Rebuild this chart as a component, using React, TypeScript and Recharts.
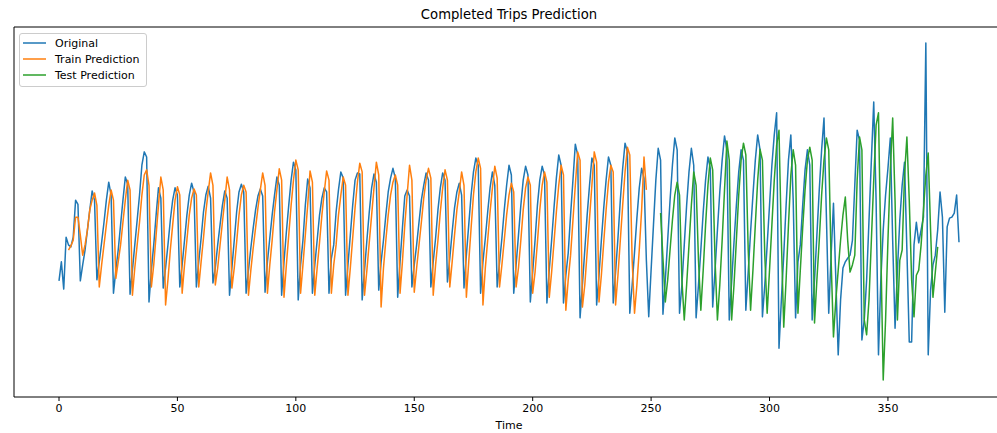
import React from 'react';
import { LineChart, Line, XAxis, YAxis } from 'recharts';

// Original series (index 0..380)
const original: number[] = [
  217, 254, 201, 302, 287, 283, 302, 374, 366, 217,
  248, 277, 316, 355, 392, 374, 219, 254, 292, 331,
  374, 409, 384, 193, 238, 277, 326, 374, 419, 405,
  191, 238, 287, 335, 384, 442, 468, 458, 176, 238,
  287, 345, 398, 378, 203, 242, 287, 335, 374, 398,
  384, 205, 248, 296, 345, 384, 407, 390, 205, 254,
  300, 351, 384, 401, 378, 213, 242, 287, 326, 364,
  392, 378, 189, 242, 296, 351, 390, 405, 390, 193,
  238, 281, 320, 355, 382, 396, 382, 195, 254, 300,
  345, 384, 419, 403, 189, 254, 312, 364, 413, 448,
  433, 180, 248, 296, 364, 415, 398, 193, 248, 296,
  345, 378, 398, 390, 193, 261, 287, 351, 394, 429,
  417, 189, 248, 306, 364, 413, 427, 425, 180, 238,
  296, 351, 398, 425, 409, 199, 254, 296, 345, 390,
  417, 436, 417, 185, 254, 320, 382, 394, 382, 205,
  248, 287, 331, 374, 403, 427, 413, 205, 254, 300,
  355, 398, 427, 413, 215, 261, 312, 359, 390, 407,
  384, 203, 267, 326, 384, 429, 456, 442, 193, 254,
  300, 351, 398, 429, 403, 205, 252, 300, 355, 403,
  442, 423, 193, 248, 306, 364, 413, 440, 423, 176,
  234, 296, 364, 413, 440, 423, 174, 238, 296, 359,
  417, 462, 442, 174, 228, 271, 345, 413, 483, 462,
  145, 209, 277, 345, 403, 456, 442, 170, 228, 296,
  359, 413, 458, 442, 174, 234, 300, 374, 436, 485,
  468, 154, 209, 273, 339, 398, 436, 417, 257, 147,
  238, 326, 413, 475, 452, 152, 219, 296, 374, 442,
  495, 472, 154, 209, 287, 364, 429, 475, 442, 145,
  209, 277, 351, 413, 458, 436, 166, 238, 316, 390,
  452, 499, 472, 141, 215, 292, 364, 429, 472, 452,
  160, 234, 312, 384, 452, 501, 472, 147, 209, 287,
  364, 442, 501, 544, 86, 180, 267, 364, 452, 501,
  374, 145, 254, 287, 364, 433, 472, 442, 141, 219,
  306, 394, 472, 534, 345, 154, 267, 368, 219, 73,
  180, 242, 254, 261, 267, 296, 403, 510, 491, 102,
  141, 219, 335, 452, 565, 374, 73, 219, 316, 384,
  436, 495, 296, 125, 238, 335, 403, 448, 277, 98,
  98, 287, 331, 291, 316, 341, 680, 73, 199, 248,
  267, 316, 390, 341, 156, 322, 339, 341, 349, 384, 292,
];

// Train prediction, starts at index 4
const TRAIN_START = 4;
const trainPrediction: number[] = [
  277, 285, 296, 341, 341, 306,
  267, 287, 316, 355, 374, 388, 364, 205, 248, 287,
  326, 364, 394, 374, 222, 254, 287, 331, 374, 413,
  394, 189, 242, 287, 331, 384, 423, 433, 403, 205,
  248, 306, 364, 419, 394, 170, 219, 277, 326, 374,
  400, 384, 193, 248, 296, 345, 378, 396, 384, 205,
  254, 300, 351, 390, 427, 403, 209, 242, 287, 331,
  374, 419, 394, 203, 242, 292, 345, 384, 403, 390,
  189, 238, 281, 320, 359, 394, 427, 403, 193, 248,
  296, 351, 394, 435, 413, 185, 248, 306, 364, 413,
  452, 433, 193, 248, 306, 364, 431, 409, 189, 242,
  292, 345, 390, 431, 413, 193, 248, 287, 345, 384,
  419, 403, 189, 242, 300, 359, 409, 446, 429, 189,
  238, 292, 345, 398, 448, 423, 166, 242, 296, 345,
  384, 409, 423, 403, 193, 254, 326, 384, 442, 413,
  195, 242, 287, 331, 378, 413, 436, 417, 189, 248,
  296, 351, 398, 433, 413, 205, 254, 306, 355, 390,
  429, 403, 185, 254, 320, 384, 429, 456, 436, 170,
  242, 296, 351, 398, 440, 417, 205, 248, 296, 345,
  384, 407, 390, 205, 242, 296, 355, 398, 419, 403,
  193, 234, 292, 355, 403, 429, 409, 185, 234, 292,
  351, 403, 442, 423, 160, 219, 267, 335, 403, 468,
  452, 166, 209, 273, 339, 403, 468, 448, 176, 228,
  292, 355, 409, 442, 429, 170, 228, 296, 364, 429,
  477, 462, 257, 154, 209, 277, 355, 458, 394,
];

// Test prediction, starts at index 254
const TEST_START = 254;
const testPrediction: number[] = [
  349, 261, 176, 219, 277, 335,
  384, 409, 384, 219, 141, 209, 287, 364, 429, 403,
  257, 160, 238, 326, 403, 456, 433, 257, 141, 209,
  296, 394, 489, 452, 141, 209, 296, 384, 452, 485,
  462, 277, 160, 238, 326, 413, 473, 452, 267, 154,
  238, 326, 413, 481, 510, 296, 127, 219, 326, 423,
  472, 442, 154, 238, 320, 394, 452, 477, 452, 135,
  219, 296, 384, 452, 495, 472, 257, 108, 180, 238,
  296, 345, 380, 296, 234, 248, 267, 413, 497, 472,
  141, 112, 180, 296, 413, 520, 544, 277, 24, 141,
  296, 433, 534, 374, 141, 257, 277, 423, 497, 374,
  219, 147, 228, 238, 287, 355, 423, 466, 316, 185,
  234, 283,
];

const xTicks = [0, 50, 100, 150, 200, 250, 300, 350];
const yTicks = [0, 100, 200, 300, 400, 500, 600, 700];

const data = original.map((v, i) => {
  const ti = i - TRAIN_START;
  const si = i - TEST_START;
  return {
    t: i,
    original: v,
    train: ti >= 0 && ti < trainPrediction.length ? trainPrediction[ti] : null,
    test: si >= 0 && si < testPrediction.length ? testPrediction[si] : null,
  };
});

const FONT = '"DejaVu Sans", sans-serif';
const BLUE = '#1f77b4';
const ORANGE = '#ff7f0e';
const GREEN = '#2ca02c';

const legendItems = [
  { label: 'Original', color: BLUE },
  { label: 'Train Prediction', color: ORANGE },
  { label: 'Test Prediction', color: GREEN },
];

export default function App() {
  return (
    <div
      style={{
        position: 'absolute',
        left: 0,
        top: 0,
        width: 997,
        height: 433,
        background: '#fff',
        fontFamily: FONT,
        overflow: 'hidden',
      }}
    >
      <div
        style={{
          position: 'absolute',
          left: 0,
          top: 7,
          width: 1018,
          textAlign: 'center',
          fontSize: 13.2,
          lineHeight: '16px',
          color: '#000',
        }}
      >
        Completed Trips Prediction
      </div>
      <LineChart
        width={997}
        height={433}
        data={data}
        margin={{ top: 26, right: -7, bottom: 0, left: 8 }}
      >
        <XAxis
          xAxisId="top"
          orientation="top"
          dataKey="t"
          type="number"
          domain={[-19, 399]}
          allowDataOverflow
          height={1}
          tick={false}
          tickLine={false}
          axisLine={{ stroke: '#000', strokeWidth: 1 }}
        />
        <XAxis
          dataKey="t"
          type="number"
          domain={[-19, 399]}
          allowDataOverflow
          ticks={xTicks}
          height={36}
          tickSize={4}
          tickMargin={3}
          axisLine={{ stroke: '#000', strokeWidth: 1 }}
          tickLine={{ stroke: '#000', strokeWidth: 1 }}
          tick={{ fill: '#000', fontSize: 11, fontFamily: FONT }}
          label={{
            value: 'Time',
            position: 'insideBottom',
            offset: 4,
            fill: '#000',
            fontSize: 11,
            fontFamily: FONT,
          }}
        />
        <YAxis
          type="number"
          domain={[-9, 711]}
          allowDataOverflow
          ticks={yTicks}
          width={6}
          tickSize={4}
          tick={false}
          axisLine={{ stroke: '#000', strokeWidth: 1 }}
          tickLine={{ stroke: '#000', strokeWidth: 1 }}
        />
        <Line
          type="linear"
          dataKey="original"
          stroke={BLUE}
          strokeWidth={1.5}
          dot={false}
          activeDot={false}
          isAnimationActive={false}
          strokeLinejoin="round"
        />
        <Line
          type="linear"
          dataKey="train"
          stroke={ORANGE}
          strokeWidth={1.5}
          dot={false}
          activeDot={false}
          isAnimationActive={false}
          strokeLinejoin="round"
        />
        <Line
          type="linear"
          dataKey="test"
          stroke={GREEN}
          strokeWidth={1.5}
          dot={false}
          activeDot={false}
          isAnimationActive={false}
          strokeLinejoin="round"
        />
      </LineChart>
      <div
        style={{
          position: 'absolute',
          left: 19,
          top: 33,
          width: 126,
          height: 51,
          border: '1px solid #cccccc',
          borderRadius: 3,
          background: 'rgba(255,255,255,0.8)',
          paddingTop: 1,
          boxSizing: 'content-box',
        }}
      >
        {legendItems.map((it) => (
          <div
            key={it.label}
            style={{
              display: 'flex',
              alignItems: 'center',
              height: 16,
              fontSize: 11,
              color: '#000',
              whiteSpace: 'nowrap',
            }}
          >
            <svg width={23} height={4} style={{ marginLeft: 3, marginRight: 9, flexShrink: 0 }}>
              <line x1={0} y1={2} x2={23} y2={2} stroke={it.color} strokeWidth={1.5} />
            </svg>
            <span>{it.label}</span>
          </div>
        ))}
      </div>
    </div>
  );
}
